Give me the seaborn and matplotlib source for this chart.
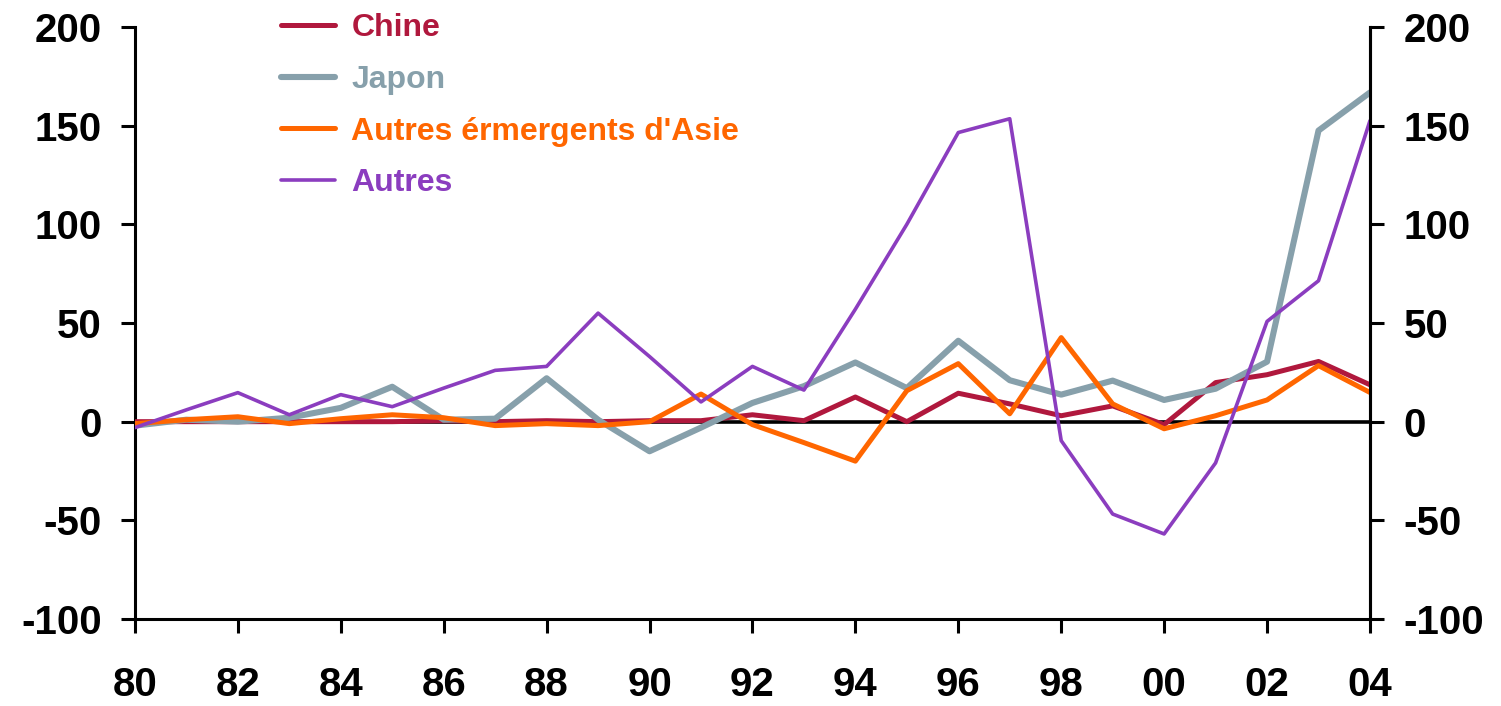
import matplotlib
matplotlib.use("Agg")
import matplotlib.pyplot as plt
import seaborn as sns
import pandas as pd
import numpy as np

years = list(range(1980, 2005))
chine = [0, 0, 0, 0, 0, 0, 0.5, 0, 0.5, 0, 0.5, 0.5, 3.5, 0.5, 12.5, 0, 14.4, 9, 3, 8, -1.5, 19.8, 23.8, 30.5, 18.7]
japon = [-2, 1, 0, 2, 7, 17.7, 1, 1.5, 22, 1, -15, -3, 9.5, 18, 30, 17, 41, 21, 13.7, 20.8, 11, 16.7, 30.4, 147.5, 166.8]
autres_em = [-1, 1, 2.5, -1, 1.5, 3.5, 2, -2, -1, -2, 0, 14, -1.5, -10.6, -20, 15.7, 29.4, 4, 42.6, 9, -3.6, 3, 11, 28.4, 14.8]
autres = [-3, 6, 14.7, 3.5, 13.7, 7.6, 17, 26, 28, 55, 33, 10, 28, 16, 57, 100, 146.5, 153.5, -9.6, -46.8, -56.9, -20.9, 50.8, 71.4, 152.5]

series_names = ["Chine", "Japon", "Autres érmergents d'Asie", "Autres"]
series_vals = [chine, japon, autres_em, autres]
colors = ["#B0183D", "#87A0AB", "#FF6600", "#8B3DBF"]
widths = [3.6, 4.4, 3.6, 2.6]

yticks = [-100, -50, 0, 50, 100, 150, 200]
xticks = list(range(1980, 2005, 2))
xticklabels = ["%02d" % (y % 100) for y in xticks]

sns.set_style("white")
plt.rcParams['font.family'] = ['Liberation Sans', 'DejaVu Sans']
plt.rcParams['font.weight'] = 'bold'
plt.rcParams['axes.unicode_minus'] = False
plt.rcParams['xtick.color'] = 'black'
plt.rcParams['ytick.color'] = 'black'
plt.rcParams['xtick.labelcolor'] = 'black'
plt.rcParams['ytick.labelcolor'] = 'black'

fig = plt.figure(figsize=(15.01, 7.06), dpi=100)
ax = fig.add_axes([0.0899, 0.1232, 0.9127 - 0.0899, 0.9618 - 0.1232])

ax.axhline(0, color="black", lw=2.6, zorder=1)

handles = []
for name, vals, c, w in zip(series_names, series_vals, colors, widths):
    df = pd.DataFrame({"year": years, "value": vals})
    sns.lineplot(data=df, x="year", y="value", color=c, lw=w, ax=ax, zorder=3)
    handles.append(plt.Line2D([], [], color=c, lw=w))

ax.set_xlim(1980, 2004)
ax.set_ylim(-100, 200)
ax.set_xticks(xticks)
ax.set_xticklabels(xticklabels)
ax.set_yticks(yticks)
ax.set_xlabel("")
ax.set_ylabel("")

for side in ["left", "right", "bottom"]:
    ax.spines[side].set_visible(True)
    ax.spines[side].set_color("black")
    ax.spines[side].set_linewidth(2.2)
ax.spines["top"].set_visible(False)

ax.tick_params(axis="x", direction="out", length=10, width=2.2, pad=24, labelsize=29, bottom=True, colors="black")
ax.tick_params(axis="y", direction="out", length=10, width=2.2, pad=14, labelsize=29, left=True, colors="black")
for lab in ax.get_xticklabels() + ax.get_yticklabels():
    lab.set_fontweight("bold")

ax2 = ax.twinx()
ax2.set_ylim(-100, 200)
ax2.set_yticks(yticks)
ax2.tick_params(axis="y", direction="out", length=10, width=2.2, pad=14, labelsize=29, right=True, colors="black")
for lab in ax2.get_yticklabels():
    lab.set_fontweight("bold")
for s in ax2.spines.values():
    s.set_visible(False)
ax2.spines["right"].set_visible(True)
ax2.spines["right"].set_linewidth(2.2)
ax2.spines["right"].set_color("black")

leg = ax.legend(handles, series_names, loc="upper left", bbox_to_anchor=(0.095, 1.072),
                frameon=False, handlelength=1.7, handletextpad=0.5,
                labelspacing=0.68, prop={"weight": "bold", "size": 23})
for txt, c in zip(leg.get_texts(), colors):
    txt.set_color(c)

fig.savefig("out.png", dpi=100)
